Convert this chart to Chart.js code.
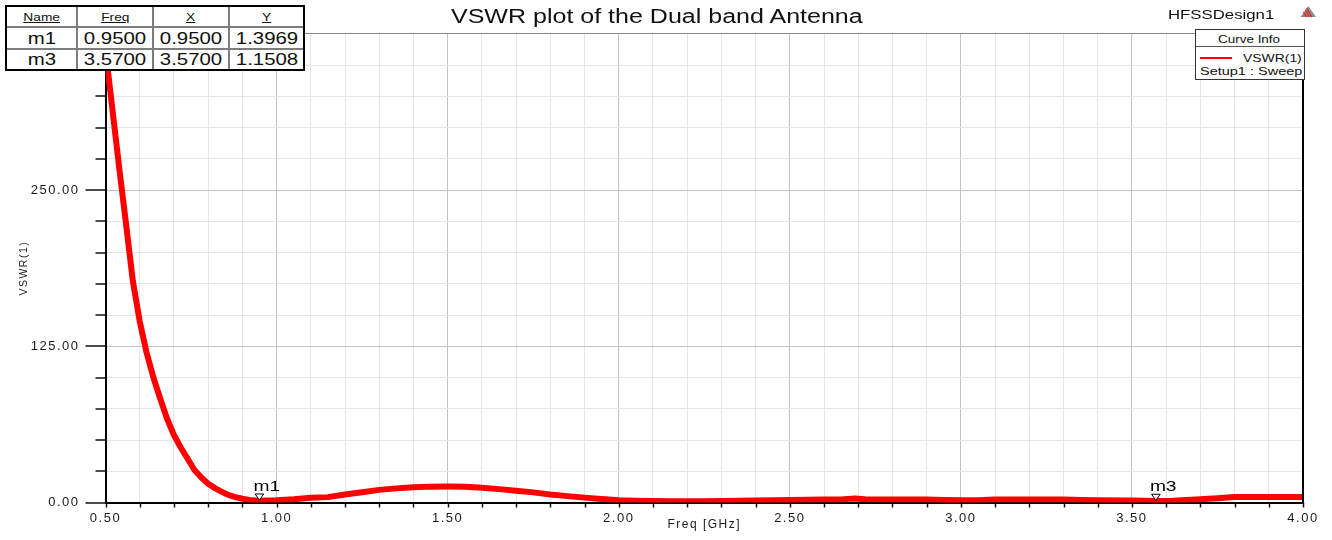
<!DOCTYPE html>
<html>
<head>
<meta charset="utf-8">
<title>VSWR plot of the Dual band Antenna</title>
<script src="https://cdn.jsdelivr.net/npm/chart.js@4.4.1/dist/chart.umd.min.js"></script>
<style>
  html, body { margin: 0; padding: 0; background: #fff; }
  #wrap { position: relative; width: 1332px; height: 540px; overflow: hidden;
          font-family: "Liberation Sans", Arial, sans-serif; color: #111; background: #fff; }
  #plot { position: absolute; left: 0; top: 0; }
  .txt { position: absolute; white-space: nowrap; line-height: 1; transform-origin: 0 0; }
  #markers { position: absolute; left: 5px; top: 5px; width: 300px; height: 66px; box-sizing: border-box;
             border: 2px solid #000; background: #7d7d7d; display: grid;
             grid-template-columns: 69px 74px 74px 73px; grid-template-rows: 19px 20px 19px; gap: 2px; z-index: 2; }
  #markers div { background: #fff; display: flex; align-items: center; justify-content: center; overflow: visible; }
  #markers .hd span { font-size: 11px; text-decoration: underline; transform: scaleX(1.25); display: inline-block; }
  #markers .cell span { font-size: 17px; transform: scaleX(1.2); display: inline-block; line-height: 1; }
  #curveInfo { position: absolute; left: 1195px; top: 29px; width: 110px; height: 51px; box-sizing: border-box;
               border: 1.5px solid #333; background: #fff; z-index: 2; }
  #curveInfo .sep { position: absolute; left: 0; right: 0; top: 15.5px; border-top: 1px solid #555; }
  #curveInfo .swatch { position: absolute; left: 4px; top: 27px; width: 32px; height: 2.4px; background: #ff0000; }
</style>
</head>
<body>
<div id="wrap">
  <canvas id="plot" width="1332" height="540"></canvas>

  <div class="txt" style="left:450.5px;top:6.8px;font-size:19.5px;transform:scaleX(1.283);">VSWR plot of the Dual band Antenna</div>
  <div class="txt" style="left:1168px;top:8.3px;font-size:13px;transform:scaleX(1.29);">HFSSDesign1</div>
  <svg style="position:absolute;left:1299px;top:5px" width="18" height="13" viewBox="0 0 18 13">
    <polygon points="9.3,1 17,12 1.5,12" fill="#8e8e8e"/>
    <g stroke="#e51c1c" stroke-width="1.2">
      <line x1="4.5" y1="7" x2="7.5" y2="12"/>
      <line x1="6.2" y1="5" x2="10.2" y2="12"/>
      <line x1="8" y1="3.2" x2="12.6" y2="12"/>
    </g>
  </svg>

  <div id="markers"></div>

  <div id="curveInfo">
    <div class="txt" style="left:21.5px;top:4px;font-size:11.5px;transform:scaleX(1.17);">Curve Info</div>
    <div class="sep"></div>
    <div class="swatch"></div>
    <div class="txt" style="left:46.5px;top:23px;font-size:11.5px;transform:scaleX(1.21);">VSWR(1)</div>
    <div class="txt" style="left:3.5px;top:35.5px;font-size:11.5px;transform:scaleX(1.26);">Setup1 : Sweep</div>
  </div>
</div>

<script>
// Frequency sweep (GHz) and the simulated VSWR(1) at each point
const freqGHz = [
  0.50, 0.52, 0.54, 0.56, 0.58, 0.60, 0.62, 0.64, 0.66, 0.68,
  0.70, 0.72, 0.74, 0.76, 0.78, 0.80, 0.82, 0.84, 0.86, 0.88,
  0.90, 0.92, 0.95, 1.00, 1.05, 1.10, 1.15, 1.20, 1.25, 1.30,
  1.35, 1.40, 1.45, 1.50, 1.55, 1.60, 1.65, 1.70, 1.75, 1.80,
  1.85, 1.90, 1.95, 2.00, 2.05, 2.10, 2.15, 2.20, 2.25, 2.30,
  2.35, 2.40, 2.45, 2.50, 2.55, 2.60, 2.65, 2.69, 2.72, 2.80,
  2.90, 2.95, 3.00, 3.05, 3.10, 3.20, 3.30, 3.35, 3.40, 3.50,
  3.57, 3.62, 3.70, 3.75, 3.80, 3.90, 4.00
];
const vswr = [
  362, 315, 268, 223, 177, 145, 120, 100, 83, 67,
  54, 44, 35, 26, 20, 15, 11.5, 8.5, 6, 4.3,
  3.0, 2.1, 1.3969, 1.8, 2.6, 3.8, 4.3, 6.4, 8.2, 10.1,
  11.3, 12.2, 12.7, 12.8, 12.6, 11.8, 10.7, 9.4, 8.1, 6.4,
  5.1, 3.9, 2.8, 1.8, 1.4, 1.2, 1.05, 1.0, 1.1, 1.3,
  1.5, 1.7, 1.8, 2.0, 2.3, 2.4, 2.5, 3.2, 2.6, 2.5,
  2.4, 2.0, 1.8, 1.9, 2.4, 2.5, 2.5, 2.1, 1.9, 1.7,
  1.1508, 1.5, 2.6, 3.4, 4.4, 4.5, 4.5
];

// Named markers placed on the curve
const markerNames = ['m1', 'm3'];
const markerFreq = [0.95, 3.57];
const markerVswr = [1.3969, 1.1508];

// Axis ranges and tick spacing
const xRange = [0.5, 4.0];
const yRange = [0, 375];
const xStep = 0.1, xMajor = 0.5;
const yStep = 25, yMajor = 125;

const isMult = (v, m) => Math.abs(v / m - Math.round(v / m)) < 1e-6;

// Marker table (Name / Freq / X / Y)
(function buildTable() {
  const el = document.getElementById('markers');
  const add = (cls, text) => {
    const d = document.createElement('div');
    d.className = cls;
    const s = document.createElement('span');
    s.textContent = text;
    d.appendChild(s);
    el.appendChild(d);
  };
  ['Name', 'Freq', 'X', 'Y'].forEach(h => add('hd', h));
  markerNames.forEach((n, i) => {
    add('cell', n);
    add('cell', markerFreq[i].toFixed(4));
    add('cell', markerFreq[i].toFixed(4));
    add('cell', markerVswr[i].toFixed(4));
  });
})();

Chart.defaults.font.family = '"Liberation Sans", Arial, sans-serif';
Chart.defaults.color = '#1a1a1a';

// Wider glyph spacing for the canvas labels
const wideText = {
  id: 'wideText',
  beforeUpdate(c) { c.ctx.letterSpacing = '1.5px'; },
  beforeDraw(c) { c.ctx.letterSpacing = '1.5px'; }
};

// Outside tick marks and the closing top/right frame
const axisTicks = {
  id: 'axisTicks',
  afterDraw(chart) {
    const { ctx, chartArea: a, scales: { x, y } } = chart;
    ctx.save();
    ctx.strokeStyle = '#111';
    ctx.lineWidth = 1.5;
    ctx.beginPath();
    x.ticks.forEach(t => {
      const px = Math.round(x.getPixelForValue(t.value)) + 0.5;
      ctx.moveTo(px, a.bottom);
      ctx.lineTo(px, a.bottom + 5);
    });
    y.ticks.forEach(t => {
      const py = Math.round(y.getPixelForValue(t.value));
      const len = isMult(t.value, yMajor) ? 20 : 10;
      ctx.moveTo(a.left, py);
      ctx.lineTo(a.left - len, py);
    });
    ctx.stroke();
    // top edge: thin grey rule
    ctx.lineWidth = 1;
    ctx.strokeStyle = '#8a8a8a';
    ctx.beginPath();
    ctx.moveTo(a.left, Math.round(a.top) - 0.5);
    ctx.lineTo(a.right, Math.round(a.top) - 0.5);
    ctx.stroke();
    // right edge: black
    ctx.lineWidth = 2;
    ctx.strokeStyle = '#000';
    ctx.beginPath();
    ctx.moveTo(a.right, a.top - 1);
    ctx.lineTo(a.right, a.bottom);
    ctx.stroke();
    ctx.restore();
  }
};

// Down-pointing marker triangles with their names
const markerPlugin = {
  id: 'markerPlugin',
  afterDatasetsDraw(chart) {
    const { ctx, scales: { x, y } } = chart;
    markerNames.forEach((name, i) => {
      const px = x.getPixelForValue(markerFreq[i]);
      const py = y.getPixelForValue(markerVswr[i]);
      ctx.save();
      ctx.beginPath();
      ctx.moveTo(px - 4.3, py - 6.8);
      ctx.lineTo(px + 4.3, py - 6.8);
      ctx.lineTo(px, py - 0.6);
      ctx.closePath();
      ctx.fillStyle = '#fff';
      ctx.fill();
      ctx.lineWidth = 1;
      ctx.strokeStyle = '#000';
      ctx.stroke();
      ctx.translate(px - 6, py - 10);
      ctx.scale(1.28, 1);
      ctx.letterSpacing = '0px';
      ctx.font = '15px "Liberation Sans", Arial, sans-serif';
      ctx.fillStyle = '#000';
      ctx.textBaseline = 'alphabetic';
      ctx.textAlign = 'left';
      ctx.fillText(name, 0, 0);
      ctx.restore();
    });
  }
};

new Chart(document.getElementById('plot'), {
  type: 'scatter',
  data: {
    datasets: [{
      label: 'VSWR(1)',
      data: freqGHz.map((f, i) => ({ x: f, y: vswr[i] })),
      showLine: true,
      borderColor: '#ff0000',
      backgroundColor: '#ff0000',
      borderWidth: 6,
      pointRadius: 0,
      tension: 0,
      borderJoinStyle: 'round'
    }]
  },
  options: {
    responsive: false,
    animation: false,
    events: [],
    layout: { padding: { top: 31.5, right: 29, left: 0, bottom: 0 } },
    plugins: { legend: { display: false }, title: { display: false }, tooltip: { enabled: false } },
    scales: {
      x: {
        type: 'linear',
        min: xRange[0], max: xRange[1],
        afterFit(s) { s.height = 37.5; },
        ticks: {
          stepSize: xStep, maxTicksLimit: 100, autoSkip: false, maxRotation: 0,
          padding: 8.5,
          font: { size: 13 },
          callback: v => isMult(v, xMajor) ? v.toFixed(2) : ''
        },
        grid: {
          drawTicks: false,
          lineWidth: 1,
          color: c => (c.tick && isMult(c.tick.value, xMajor)) ? '#c4c4c4' : '#e6e6e6'
        },
        border: { color: '#000', width: 2 },
        title: { display: true, text: 'Freq [GHz]', font: { size: 12 }, padding: { top: 0, bottom: 8 } }
      },
      y: {
        min: yRange[0], max: yRange[1],
        afterFit(s) { s.width = 105.5; },
        ticks: {
          stepSize: yStep, maxTicksLimit: 100, autoSkip: false,
          padding: 26,
          font: { size: 13 },
          callback: v => (isMult(v, yMajor) && v < yRange[1]) ? v.toFixed(2) : ''
        },
        grid: {
          drawTicks: false,
          lineWidth: 1,
          color: c => (c.tick && isMult(c.tick.value, yMajor)) ? '#c4c4c4' : '#e6e6e6'
        },
        border: { color: '#000', width: 2 },
        title: { display: true, text: 'VSWR(1)', font: { size: 10.5 }, padding: { top: 18, bottom: 0 } }
      }
    }
  },
  plugins: [wideText, axisTicks, markerPlugin]
});
</script>
</body>
</html>
